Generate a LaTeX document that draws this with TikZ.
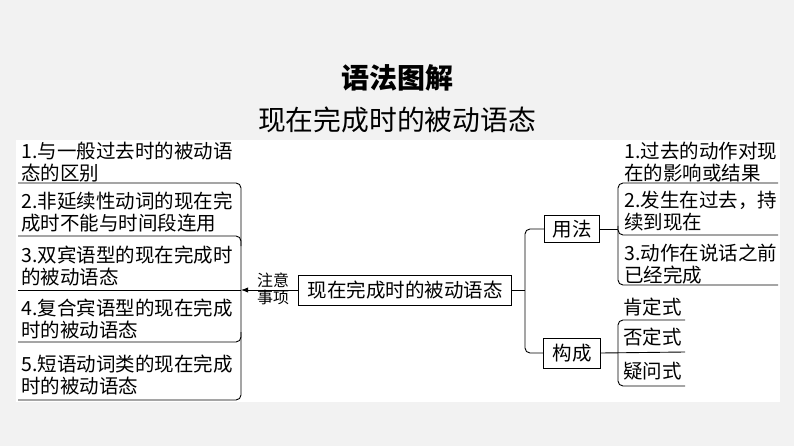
\documentclass[tikz,border=0pt]{standalone}
\usepackage{fontspec}
\setmainfont{Noto Sans CJK SC}
\usetikzlibrary{arrows.meta}

\begin{document}
\begin{tikzpicture}[x=1pt,y=-1pt,line width=0.9pt,>=Latex,
  item/.style={anchor=west,align=left,inner sep=0pt,font=\fontsize{19.5}{21.5}\selectfont},
  topic/.style={draw,inner sep=0pt,font=\fontsize{19.5}{21}\selectfont},
  brace/.style={rounded corners=5pt}]
% Background and panel
\useasboundingbox (0,0) rectangle (794,446);
\fill[gray!10] (0,0) rectangle (794,446);
\fill[white] (16,140) rectangle (780,402);

% Titles
\node[font=\fontsize{28}{30}\selectfont\bfseries] (title) at (397,78) {语法图解};
\node[font=\fontsize{27.8}{30}\selectfont] (subtitle) at (397,120) {现在完成时的被动语态};

% Centre topic
\node[topic,minimum width=213,minimum height=30] (main) at (405,290) {现在完成时的被动语态};
\node[align=center,inner sep=0pt,font=\fontsize{16}{17}\selectfont] (note) at (273,289) {注意\\事项};

% Left: notes
\coordinate (lj) at (241,290);
\draw[->] (main.west) -- (lj);
\draw[brace] (18,183) -- (241,183) -- (241,400) -- (18,400);
\draw[brace] (18,236) -- (241,236) -- (241,246);
\draw[brace] (18,342) -- (241,342) -- (241,332);
\draw (18,290) -- (lj);
\node[item] (n1) at (21,162) {1.与一般过去时的被动语\\态的区别};
\node[item] (n2) at (21,212) {2.非延续性动词的现在完\\成时不能与时间段连用};
\node[item] (n3) at (21,266) {3.双宾语型的现在完成时\\的被动语态};
\node[item] (n4) at (21,319) {4.复合宾语型的现在完成\\时的被动语态};
\node[item] (n5) at (21,375) {5.短语动词类的现在完成\\时的被动语态};

% Right: usage and forms
\coordinate (rj) at (525,290);
\node[topic,minimum width=55,minimum height=27] (use) at (572,229) {用法};
\node[topic,minimum width=57,minimum height=30] (form) at (572,353) {构成};
\draw (main.east) -- (rj);
\draw[brace] (use.west) -| (rj) |- (form.west);

\coordinate (uj) at (618,229);
\draw (use.east) -- (uj);
\draw[brace] (778,183) -- (618,183) -- (618,285) -- (778,285);
\draw[brace] (778,235) -- (618,235) -- (618,226);
\node[item] (u1) at (624,162) {1.过去的动作对现\\在的影响或结果};
\node[item] (u2) at (624,211) {2.发生在过去，持\\续到现在};
\node[item] (u3) at (624,264) {3.动作在说话之前\\已经完成};

\coordinate (fj) at (685,352);
\draw (form.east) -- (fj);
\draw[brace] (685,320) -- (618,320) -- (618,386) -- (685,386);
\node[item] (f1) at (623,307) {肯定式};
\node[item] (f2) at (623,337) {否定式};
\node[item] (f3) at (623,371) {疑问式};
\end{tikzpicture}
\end{document}
